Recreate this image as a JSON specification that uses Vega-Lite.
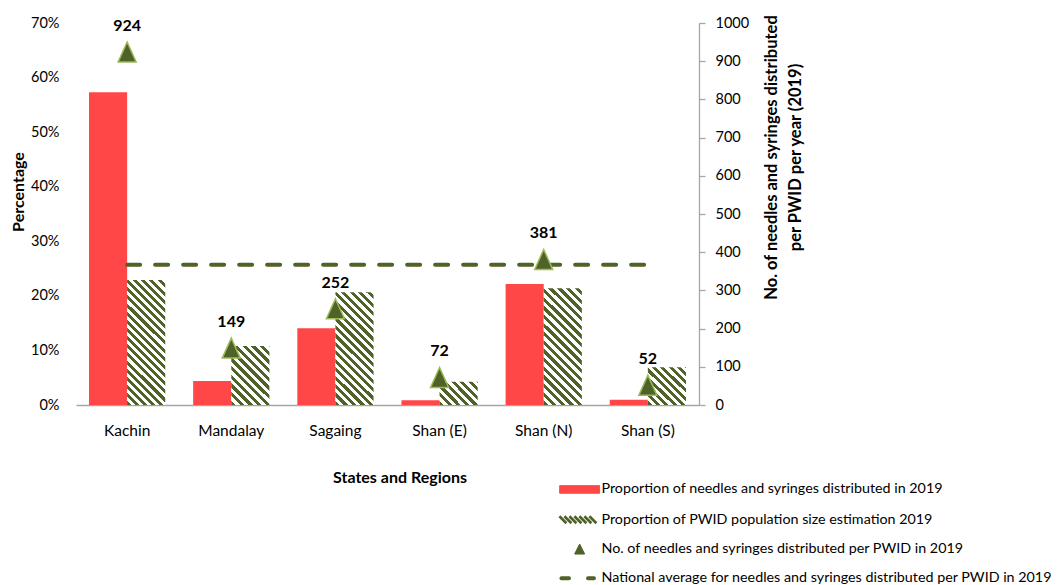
{
  "$schema": "https://vega.github.io/schema/vega-lite/v6.json",
  "width": 623,
  "height": 382,
  "autosize": {"type": "none"},
  "padding": {"left": 76, "top": 23, "right": 365, "bottom": 180},
  "background": "white",
  "config": {
    "font": "Lato",
    "view": {"stroke": null},
    "axis": {"grid": false, "labelColor": "#000000", "titleColor": "#000000", "labelFontSize": 14, "titleFontSize": 16, "titleFontWeight": "bold", "labelFont": "Lato", "titleFont": "Lato"}
  },
  "datasets": {
    "bars": [
      {"region": "Kachin", "series": "Proportion of needles and syringes distributed in 2019", "pct": 0.573},
      {"region": "Kachin", "series": "Proportion of PWID population size estimation 2019", "pct": 0.229},
      {"region": "Mandalay", "series": "Proportion of needles and syringes distributed in 2019", "pct": 0.044},
      {"region": "Mandalay", "series": "Proportion of PWID population size estimation 2019", "pct": 0.108},
      {"region": "Sagaing", "series": "Proportion of needles and syringes distributed in 2019", "pct": 0.1405},
      {"region": "Sagaing", "series": "Proportion of PWID population size estimation 2019", "pct": 0.2065},
      {"region": "Shan (E)", "series": "Proportion of needles and syringes distributed in 2019", "pct": 0.0086},
      {"region": "Shan (E)", "series": "Proportion of PWID population size estimation 2019", "pct": 0.0427},
      {"region": "Shan (N)", "series": "Proportion of needles and syringes distributed in 2019", "pct": 0.2217},
      {"region": "Shan (N)", "series": "Proportion of PWID population size estimation 2019", "pct": 0.2138},
      {"region": "Shan (S)", "series": "Proportion of needles and syringes distributed in 2019", "pct": 0.0097},
      {"region": "Shan (S)", "series": "Proportion of PWID population size estimation 2019", "pct": 0.069}
    ],
    "pwid": [
      {"region": "Kachin", "value": 924},
      {"region": "Mandalay", "value": 149},
      {"region": "Sagaing", "value": 252},
      {"region": "Shan (E)", "value": 72},
      {"region": "Shan (N)", "value": 381},
      {"region": "Shan (S)", "value": 52}
    ],
    "avg": [
      {"region": "Kachin", "value": 367},
      {"region": "Shan (S)", "value": 367}
    ]
  },
  "layer": [
    {
      "data": {"name": "bars"},
      "mark": {"type": "bar"},
      "encoding": {
        "x": {
          "field": "region", "type": "nominal",
          "sort": ["Kachin", "Mandalay", "Sagaing", "Shan (E)", "Shan (N)", "Shan (S)"],
          "scale": {"paddingInner": 0.268, "paddingOuter": 0.125},
          "axis": {"title": "States and Regions", "labelAngle": 0, "ticks": false, "domainColor": "#A6A6A6", "domainWidth": 1.3, "labelPadding": 18.5, "labelFontSize": 15.5, "titleX": 323.5, "titleY": 72.5, "titleBaseline": "middle", "titleAlign": "center"}
        },
        "xOffset": {
          "field": "series", "type": "nominal",
          "sort": ["Proportion of needles and syringes distributed in 2019", "Proportion of PWID population size estimation 2019"],
          "scale": {"paddingInner": 0, "paddingOuter": 0}
        },
        "y": {
          "field": "pct", "type": "quantitative",
          "scale": {"domain": [0, 0.7]},
          "axis": {"title": "Percentage", "values": [0, 0.1, 0.2, 0.3, 0.4, 0.5, 0.6, 0.7], "format": ".0%", "domain": false, "ticks": false, "labelPadding": 17, "labelFontSize": 14.5, "titleAngle": 270, "titleX": -58, "titleY": 168.5, "titleBaseline": "middle", "titleAlign": "center"}
        },
        "color": {
          "condition": [
            {"test": "datum.series == 'Proportion of PWID population size estimation 2019' && datum.region == 'Kachin'",
             "value": {"gradient": "linear", "x1": 0, "y1": 1, "x2": 0.3629, "y2": -0.1937, "stops": [
              {"offset": 0, "color": "#4F6228"}, {"offset": 0.025, "color": "#4F6228"}, {"offset": 0.025, "color": "#FFFFFF"}, {"offset": 0.05, "color": "#FFFFFF"},
              {"offset": 0.05, "color": "#4F6228"}, {"offset": 0.075, "color": "#4F6228"}, {"offset": 0.075, "color": "#FFFFFF"}, {"offset": 0.1, "color": "#FFFFFF"},
              {"offset": 0.1, "color": "#4F6228"}, {"offset": 0.125, "color": "#4F6228"}, {"offset": 0.125, "color": "#FFFFFF"}, {"offset": 0.15, "color": "#FFFFFF"},
              {"offset": 0.15, "color": "#4F6228"}, {"offset": 0.175, "color": "#4F6228"}, {"offset": 0.175, "color": "#FFFFFF"}, {"offset": 0.2, "color": "#FFFFFF"},
              {"offset": 0.2, "color": "#4F6228"}, {"offset": 0.225, "color": "#4F6228"}, {"offset": 0.225, "color": "#FFFFFF"}, {"offset": 0.25, "color": "#FFFFFF"},
              {"offset": 0.25, "color": "#4F6228"}, {"offset": 0.275, "color": "#4F6228"}, {"offset": 0.275, "color": "#FFFFFF"}, {"offset": 0.3, "color": "#FFFFFF"},
              {"offset": 0.3, "color": "#4F6228"}, {"offset": 0.325, "color": "#4F6228"}, {"offset": 0.325, "color": "#FFFFFF"}, {"offset": 0.35, "color": "#FFFFFF"},
              {"offset": 0.35, "color": "#4F6228"}, {"offset": 0.375, "color": "#4F6228"}, {"offset": 0.375, "color": "#FFFFFF"}, {"offset": 0.4, "color": "#FFFFFF"},
              {"offset": 0.4, "color": "#4F6228"}, {"offset": 0.425, "color": "#4F6228"}, {"offset": 0.425, "color": "#FFFFFF"}, {"offset": 0.45, "color": "#FFFFFF"},
              {"offset": 0.45, "color": "#4F6228"}, {"offset": 0.475, "color": "#4F6228"}, {"offset": 0.475, "color": "#FFFFFF"}, {"offset": 0.5, "color": "#FFFFFF"},
              {"offset": 0.5, "color": "#4F6228"}, {"offset": 0.525, "color": "#4F6228"}, {"offset": 0.525, "color": "#FFFFFF"}, {"offset": 0.55, "color": "#FFFFFF"},
              {"offset": 0.55, "color": "#4F6228"}, {"offset": 0.575, "color": "#4F6228"}, {"offset": 0.575, "color": "#FFFFFF"}, {"offset": 0.6, "color": "#FFFFFF"},
              {"offset": 0.6, "color": "#4F6228"}, {"offset": 0.625, "color": "#4F6228"}, {"offset": 0.625, "color": "#FFFFFF"}, {"offset": 0.65, "color": "#FFFFFF"},
              {"offset": 0.65, "color": "#4F6228"}, {"offset": 0.675, "color": "#4F6228"}, {"offset": 0.675, "color": "#FFFFFF"}, {"offset": 0.7, "color": "#FFFFFF"},
              {"offset": 0.7, "color": "#4F6228"}, {"offset": 0.725, "color": "#4F6228"}, {"offset": 0.725, "color": "#FFFFFF"}, {"offset": 0.75, "color": "#FFFFFF"},
              {"offset": 0.75, "color": "#4F6228"}, {"offset": 0.775, "color": "#4F6228"}, {"offset": 0.775, "color": "#FFFFFF"}, {"offset": 0.8, "color": "#FFFFFF"},
              {"offset": 0.8, "color": "#4F6228"}, {"offset": 0.825, "color": "#4F6228"}, {"offset": 0.825, "color": "#FFFFFF"}, {"offset": 0.85, "color": "#FFFFFF"},
              {"offset": 0.85, "color": "#4F6228"}, {"offset": 0.875, "color": "#4F6228"}, {"offset": 0.875, "color": "#FFFFFF"}, {"offset": 0.9, "color": "#FFFFFF"},
              {"offset": 0.9, "color": "#4F6228"}, {"offset": 0.925, "color": "#4F6228"}, {"offset": 0.925, "color": "#FFFFFF"}, {"offset": 0.95, "color": "#FFFFFF"},
              {"offset": 0.95, "color": "#4F6228"}, {"offset": 0.975, "color": "#4F6228"}, {"offset": 0.975, "color": "#FFFFFF"}, {"offset": 1, "color": "#FFFFFF"}
             ]}},
            {"test": "datum.series == 'Proportion of PWID population size estimation 2019' && datum.region == 'Mandalay'",
             "value": {"gradient": "linear", "x1": 0, "y1": 1, "x2": 0.749, "y2": -0.1617, "stops": [
              {"offset": 0, "color": "#4F6228"}, {"offset": 0.045, "color": "#4F6228"}, {"offset": 0.045, "color": "#FFFFFF"}, {"offset": 0.09, "color": "#FFFFFF"},
              {"offset": 0.09, "color": "#4F6228"}, {"offset": 0.135, "color": "#4F6228"}, {"offset": 0.135, "color": "#FFFFFF"}, {"offset": 0.18, "color": "#FFFFFF"},
              {"offset": 0.18, "color": "#4F6228"}, {"offset": 0.225, "color": "#4F6228"}, {"offset": 0.225, "color": "#FFFFFF"}, {"offset": 0.27, "color": "#FFFFFF"},
              {"offset": 0.27, "color": "#4F6228"}, {"offset": 0.315, "color": "#4F6228"}, {"offset": 0.315, "color": "#FFFFFF"}, {"offset": 0.36, "color": "#FFFFFF"},
              {"offset": 0.36, "color": "#4F6228"}, {"offset": 0.405, "color": "#4F6228"}, {"offset": 0.405, "color": "#FFFFFF"}, {"offset": 0.45, "color": "#FFFFFF"},
              {"offset": 0.45, "color": "#4F6228"}, {"offset": 0.495, "color": "#4F6228"}, {"offset": 0.495, "color": "#FFFFFF"}, {"offset": 0.54, "color": "#FFFFFF"},
              {"offset": 0.54, "color": "#4F6228"}, {"offset": 0.585, "color": "#4F6228"}, {"offset": 0.585, "color": "#FFFFFF"}, {"offset": 0.63, "color": "#FFFFFF"},
              {"offset": 0.63, "color": "#4F6228"}, {"offset": 0.675, "color": "#4F6228"}, {"offset": 0.675, "color": "#FFFFFF"}, {"offset": 0.72, "color": "#FFFFFF"},
              {"offset": 0.72, "color": "#4F6228"}, {"offset": 0.765, "color": "#4F6228"}, {"offset": 0.765, "color": "#FFFFFF"}, {"offset": 0.81, "color": "#FFFFFF"},
              {"offset": 0.81, "color": "#4F6228"}, {"offset": 0.855, "color": "#4F6228"}, {"offset": 0.855, "color": "#FFFFFF"}, {"offset": 0.9, "color": "#FFFFFF"},
              {"offset": 0.9, "color": "#4F6228"}, {"offset": 0.945, "color": "#4F6228"}, {"offset": 0.945, "color": "#FFFFFF"}, {"offset": 0.99, "color": "#FFFFFF"},
              {"offset": 0.99, "color": "#4F6228"}, {"offset": 1, "color": "#4F6228"}
             ]}},
            {"test": "datum.series == 'Proportion of PWID population size estimation 2019' && datum.region == 'Sagaing'",
             "value": {"gradient": "linear", "x1": 0, "y1": 1, "x2": 0.4039, "y2": -0.2008, "stops": [
              {"offset": 0, "color": "#4F6228"}, {"offset": 0.028, "color": "#4F6228"}, {"offset": 0.028, "color": "#FFFFFF"}, {"offset": 0.056, "color": "#FFFFFF"},
              {"offset": 0.056, "color": "#4F6228"}, {"offset": 0.084, "color": "#4F6228"}, {"offset": 0.084, "color": "#FFFFFF"}, {"offset": 0.112, "color": "#FFFFFF"},
              {"offset": 0.112, "color": "#4F6228"}, {"offset": 0.14, "color": "#4F6228"}, {"offset": 0.14, "color": "#FFFFFF"}, {"offset": 0.168, "color": "#FFFFFF"},
              {"offset": 0.168, "color": "#4F6228"}, {"offset": 0.196, "color": "#4F6228"}, {"offset": 0.196, "color": "#FFFFFF"}, {"offset": 0.224, "color": "#FFFFFF"},
              {"offset": 0.224, "color": "#4F6228"}, {"offset": 0.252, "color": "#4F6228"}, {"offset": 0.252, "color": "#FFFFFF"}, {"offset": 0.28, "color": "#FFFFFF"},
              {"offset": 0.28, "color": "#4F6228"}, {"offset": 0.308, "color": "#4F6228"}, {"offset": 0.308, "color": "#FFFFFF"}, {"offset": 0.336, "color": "#FFFFFF"},
              {"offset": 0.336, "color": "#4F6228"}, {"offset": 0.364, "color": "#4F6228"}, {"offset": 0.364, "color": "#FFFFFF"}, {"offset": 0.392, "color": "#FFFFFF"},
              {"offset": 0.392, "color": "#4F6228"}, {"offset": 0.42, "color": "#4F6228"}, {"offset": 0.42, "color": "#FFFFFF"}, {"offset": 0.448, "color": "#FFFFFF"},
              {"offset": 0.448, "color": "#4F6228"}, {"offset": 0.476, "color": "#4F6228"}, {"offset": 0.476, "color": "#FFFFFF"}, {"offset": 0.504, "color": "#FFFFFF"},
              {"offset": 0.504, "color": "#4F6228"}, {"offset": 0.532, "color": "#4F6228"}, {"offset": 0.532, "color": "#FFFFFF"}, {"offset": 0.56, "color": "#FFFFFF"},
              {"offset": 0.56, "color": "#4F6228"}, {"offset": 0.588, "color": "#4F6228"}, {"offset": 0.588, "color": "#FFFFFF"}, {"offset": 0.616, "color": "#FFFFFF"},
              {"offset": 0.616, "color": "#4F6228"}, {"offset": 0.644, "color": "#4F6228"}, {"offset": 0.644, "color": "#FFFFFF"}, {"offset": 0.672, "color": "#FFFFFF"},
              {"offset": 0.672, "color": "#4F6228"}, {"offset": 0.7, "color": "#4F6228"}, {"offset": 0.7, "color": "#FFFFFF"}, {"offset": 0.728, "color": "#FFFFFF"},
              {"offset": 0.728, "color": "#4F6228"}, {"offset": 0.756, "color": "#4F6228"}, {"offset": 0.756, "color": "#FFFFFF"}, {"offset": 0.784, "color": "#FFFFFF"},
              {"offset": 0.784, "color": "#4F6228"}, {"offset": 0.812, "color": "#4F6228"}, {"offset": 0.812, "color": "#FFFFFF"}, {"offset": 0.84, "color": "#FFFFFF"},
              {"offset": 0.84, "color": "#4F6228"}, {"offset": 0.868, "color": "#4F6228"}, {"offset": 0.868, "color": "#FFFFFF"}, {"offset": 0.896, "color": "#FFFFFF"},
              {"offset": 0.896, "color": "#4F6228"}, {"offset": 0.924, "color": "#4F6228"}, {"offset": 0.924, "color": "#FFFFFF"}, {"offset": 0.952, "color": "#FFFFFF"},
              {"offset": 0.952, "color": "#4F6228"}, {"offset": 0.98, "color": "#4F6228"}, {"offset": 0.98, "color": "#FFFFFF"}, {"offset": 1, "color": "#FFFFFF"}
             ]}},
            {"test": "datum.series == 'Proportion of PWID population size estimation 2019' && datum.region == 'Shan (E)'",
             "value": {"gradient": "linear", "x1": 0, "y1": 1, "x2": 1.1755, "y2": 0.2912, "stops": [
              {"offset": 0, "color": "#4F6228"}, {"offset": 0.07, "color": "#4F6228"}, {"offset": 0.07, "color": "#FFFFFF"}, {"offset": 0.14, "color": "#FFFFFF"},
              {"offset": 0.14, "color": "#4F6228"}, {"offset": 0.21, "color": "#4F6228"}, {"offset": 0.21, "color": "#FFFFFF"}, {"offset": 0.28, "color": "#FFFFFF"},
              {"offset": 0.28, "color": "#4F6228"}, {"offset": 0.35, "color": "#4F6228"}, {"offset": 0.35, "color": "#FFFFFF"}, {"offset": 0.42, "color": "#FFFFFF"},
              {"offset": 0.42, "color": "#4F6228"}, {"offset": 0.49, "color": "#4F6228"}, {"offset": 0.49, "color": "#FFFFFF"}, {"offset": 0.56, "color": "#FFFFFF"},
              {"offset": 0.56, "color": "#4F6228"}, {"offset": 0.63, "color": "#4F6228"}, {"offset": 0.63, "color": "#FFFFFF"}, {"offset": 0.7, "color": "#FFFFFF"},
              {"offset": 0.7, "color": "#4F6228"}, {"offset": 0.77, "color": "#4F6228"}, {"offset": 0.77, "color": "#FFFFFF"}, {"offset": 0.84, "color": "#FFFFFF"},
              {"offset": 0.84, "color": "#4F6228"}, {"offset": 0.91, "color": "#4F6228"}, {"offset": 0.91, "color": "#FFFFFF"}, {"offset": 0.98, "color": "#FFFFFF"},
              {"offset": 0.98, "color": "#4F6228"}, {"offset": 1, "color": "#4F6228"}
             ]}},
            {"test": "datum.series == 'Proportion of PWID population size estimation 2019' && datum.region == 'Shan (N)'",
             "value": {"gradient": "linear", "x1": 0, "y1": 1, "x2": 0.39, "y2": -0.1985, "stops": [
              {"offset": 0, "color": "#4F6228"}, {"offset": 0.028, "color": "#4F6228"}, {"offset": 0.028, "color": "#FFFFFF"}, {"offset": 0.056, "color": "#FFFFFF"},
              {"offset": 0.056, "color": "#4F6228"}, {"offset": 0.084, "color": "#4F6228"}, {"offset": 0.084, "color": "#FFFFFF"}, {"offset": 0.112, "color": "#FFFFFF"},
              {"offset": 0.112, "color": "#4F6228"}, {"offset": 0.14, "color": "#4F6228"}, {"offset": 0.14, "color": "#FFFFFF"}, {"offset": 0.168, "color": "#FFFFFF"},
              {"offset": 0.168, "color": "#4F6228"}, {"offset": 0.196, "color": "#4F6228"}, {"offset": 0.196, "color": "#FFFFFF"}, {"offset": 0.224, "color": "#FFFFFF"},
              {"offset": 0.224, "color": "#4F6228"}, {"offset": 0.252, "color": "#4F6228"}, {"offset": 0.252, "color": "#FFFFFF"}, {"offset": 0.28, "color": "#FFFFFF"},
              {"offset": 0.28, "color": "#4F6228"}, {"offset": 0.308, "color": "#4F6228"}, {"offset": 0.308, "color": "#FFFFFF"}, {"offset": 0.336, "color": "#FFFFFF"},
              {"offset": 0.336, "color": "#4F6228"}, {"offset": 0.364, "color": "#4F6228"}, {"offset": 0.364, "color": "#FFFFFF"}, {"offset": 0.392, "color": "#FFFFFF"},
              {"offset": 0.392, "color": "#4F6228"}, {"offset": 0.42, "color": "#4F6228"}, {"offset": 0.42, "color": "#FFFFFF"}, {"offset": 0.448, "color": "#FFFFFF"},
              {"offset": 0.448, "color": "#4F6228"}, {"offset": 0.476, "color": "#4F6228"}, {"offset": 0.476, "color": "#FFFFFF"}, {"offset": 0.504, "color": "#FFFFFF"},
              {"offset": 0.504, "color": "#4F6228"}, {"offset": 0.532, "color": "#4F6228"}, {"offset": 0.532, "color": "#FFFFFF"}, {"offset": 0.56, "color": "#FFFFFF"},
              {"offset": 0.56, "color": "#4F6228"}, {"offset": 0.588, "color": "#4F6228"}, {"offset": 0.588, "color": "#FFFFFF"}, {"offset": 0.616, "color": "#FFFFFF"},
              {"offset": 0.616, "color": "#4F6228"}, {"offset": 0.644, "color": "#4F6228"}, {"offset": 0.644, "color": "#FFFFFF"}, {"offset": 0.672, "color": "#FFFFFF"},
              {"offset": 0.672, "color": "#4F6228"}, {"offset": 0.7, "color": "#4F6228"}, {"offset": 0.7, "color": "#FFFFFF"}, {"offset": 0.728, "color": "#FFFFFF"},
              {"offset": 0.728, "color": "#4F6228"}, {"offset": 0.756, "color": "#4F6228"}, {"offset": 0.756, "color": "#FFFFFF"}, {"offset": 0.784, "color": "#FFFFFF"},
              {"offset": 0.784, "color": "#4F6228"}, {"offset": 0.812, "color": "#4F6228"}, {"offset": 0.812, "color": "#FFFFFF"}, {"offset": 0.84, "color": "#FFFFFF"},
              {"offset": 0.84, "color": "#4F6228"}, {"offset": 0.868, "color": "#4F6228"}, {"offset": 0.868, "color": "#FFFFFF"}, {"offset": 0.896, "color": "#FFFFFF"},
              {"offset": 0.896, "color": "#4F6228"}, {"offset": 0.924, "color": "#4F6228"}, {"offset": 0.924, "color": "#FFFFFF"}, {"offset": 0.952, "color": "#FFFFFF"},
              {"offset": 0.952, "color": "#4F6228"}, {"offset": 0.98, "color": "#4F6228"}, {"offset": 0.98, "color": "#FFFFFF"}, {"offset": 1, "color": "#FFFFFF"}
             ]}},
            {"test": "datum.series == 'Proportion of PWID population size estimation 2019' && datum.region == 'Shan (S)'",
             "value": {"gradient": "linear", "x1": 0, "y1": 1, "x2": 0.9975, "y2": -0.0025, "stops": [
              {"offset": 0, "color": "#4F6228"}, {"offset": 0.055, "color": "#4F6228"}, {"offset": 0.055, "color": "#FFFFFF"}, {"offset": 0.11, "color": "#FFFFFF"},
              {"offset": 0.11, "color": "#4F6228"}, {"offset": 0.165, "color": "#4F6228"}, {"offset": 0.165, "color": "#FFFFFF"}, {"offset": 0.22, "color": "#FFFFFF"},
              {"offset": 0.22, "color": "#4F6228"}, {"offset": 0.275, "color": "#4F6228"}, {"offset": 0.275, "color": "#FFFFFF"}, {"offset": 0.33, "color": "#FFFFFF"},
              {"offset": 0.33, "color": "#4F6228"}, {"offset": 0.385, "color": "#4F6228"}, {"offset": 0.385, "color": "#FFFFFF"}, {"offset": 0.44, "color": "#FFFFFF"},
              {"offset": 0.44, "color": "#4F6228"}, {"offset": 0.495, "color": "#4F6228"}, {"offset": 0.495, "color": "#FFFFFF"}, {"offset": 0.55, "color": "#FFFFFF"},
              {"offset": 0.55, "color": "#4F6228"}, {"offset": 0.605, "color": "#4F6228"}, {"offset": 0.605, "color": "#FFFFFF"}, {"offset": 0.66, "color": "#FFFFFF"},
              {"offset": 0.66, "color": "#4F6228"}, {"offset": 0.715, "color": "#4F6228"}, {"offset": 0.715, "color": "#FFFFFF"}, {"offset": 0.77, "color": "#FFFFFF"},
              {"offset": 0.77, "color": "#4F6228"}, {"offset": 0.825, "color": "#4F6228"}, {"offset": 0.825, "color": "#FFFFFF"}, {"offset": 0.88, "color": "#FFFFFF"},
              {"offset": 0.88, "color": "#4F6228"}, {"offset": 0.935, "color": "#4F6228"}, {"offset": 0.935, "color": "#FFFFFF"}, {"offset": 0.99, "color": "#FFFFFF"},
              {"offset": 0.99, "color": "#4F6228"}, {"offset": 1, "color": "#4F6228"}
             ]}}
          ],
          "field": "series",
          "type": "nominal",
          "scale": {
            "domain": [
              "Proportion of needles and syringes distributed in 2019",
              "Proportion of PWID population size estimation 2019",
              "No. of needles and syringes distributed per PWID in 2019",
              "National average for needles and syringes distributed per PWID in 2019"
            ],
            "range": ["#FF4747", "#4F6228", "#4F6228", "#4F6228"]
          },
          "legend": {
            "orient": "none",
            "legendX": 496.5,
            "legendY": 459.3,
            "title": null,
            "padding": 0,
            "symbolSize": 729,
            "labelOffset": 14.7,
            "rowPadding": 13.3,
            "labelFontSize": 14.3,
            "labelFont": "Lato",
            "labelColor": "#000000",
            "labelLimit": 700,
            "encode": {
              "symbols": {
                "update": {
                  "shape": {"signal": "datum.value == 'Proportion of needles and syringes distributed in 2019' ? 'M-1.48,-0.28H1.48V0.28H-1.48Z' : datum.value == 'Proportion of PWID population size estimation 2019' ? 'M-1.5,-0.26L-0.98,0.26M-1.13,-0.26L-0.61,0.26M-0.76,-0.26L-0.24,0.26M-0.39,-0.26L0.13,0.26M-0.02,-0.26L0.5,0.26M0.35,-0.26L0.87,0.26M0.72,-0.26L1.24,0.26' : datum.value == 'No. of needles and syringes distributed per PWID in 2019' ? 'M0,-0.37L-0.37,0.37L0.37,0.37Z' : 'M-1.35,0H-0.79M0.62,0H1.06'"},
                  "fill": {"signal": "datum.value == 'Proportion of needles and syringes distributed in 2019' ? '#FF4747' : datum.value == 'No. of needles and syringes distributed per PWID in 2019' ? '#4F6228' : 'transparent'"},
                  "stroke": {"signal": "datum.value == 'Proportion of needles and syringes distributed in 2019' ? 'transparent' : datum.value == 'No. of needles and syringes distributed per PWID in 2019' ? '#9BBB59' : '#4F6228'"},
                  "strokeWidth": {"signal": "datum.value == 'Proportion of PWID population size estimation 2019' ? 2.6 : datum.value == 'National average for needles and syringes distributed per PWID in 2019' ? 4 : 1"},
                  "strokeCap": {"signal": "datum.value == 'National average for needles and syringes distributed per PWID in 2019' ? 'round' : 'butt'"},
                  "opacity": {"value": 1}
                }
              }
            }
          }
        }
      }
    },
    {
      "encoding": {
        "x": {"field": "region", "type": "nominal", "sort": ["Kachin", "Mandalay", "Sagaing", "Shan (E)", "Shan (N)", "Shan (S)"]},
        "y": {
          "field": "value", "type": "quantitative",
          "scale": {"domain": [0, 1000]},
          "axis": {
            "orient": "right",
            "values": [0, 100, 200, 300, 400, 500, 600, 700, 800, 900, 1000],
            "format": "d",
            "title": ["No. of needles and syringes distributed", "per PWID per year (2019)"],
            "domainColor": "#A6A6A6", "domainWidth": 1.3, "tickColor": "#A6A6A6", "tickSize": 6, "tickWidth": 1.3,
            "labelPadding": 10, "labelFontSize": 14.5,
            "titleAngle": 270, "titleX": 64, "titleY": 134, "titleBaseline": "top", "titleAlign": "center", "titleLineHeight": 24, "titleFontSize": 16.5
          }
        }
      },
      "layer": [
        {
          "data": {"name": "avg"},
          "mark": {"type": "line", "strokeDash": [13, 15], "strokeWidth": 4, "strokeCap": "round"},
          "encoding": {
            "color": {"datum": "National average for needles and syringes distributed per PWID in 2019", "legend": null}
          }
        },
        {
          "data": {"name": "pwid"},
          "mark": {"type": "point", "shape": "M0,-1L-0.9,1L0.9,1Z", "size": 400, "filled": true, "stroke": "#9BBB59", "strokeWidth": 1.5, "opacity": 1},
          "encoding": {
            "color": {"datum": "No. of needles and syringes distributed per PWID in 2019", "legend": null}
          }
        },
        {
          "data": {"name": "pwid"},
          "mark": {"type": "text", "dy": -26, "fontSize": 16, "fontWeight": "bold", "font": "Lato", "color": "#000000"},
          "encoding": {
            "text": {"field": "value", "type": "quantitative"}
          }
        }
      ]
    }
  ],
  "resolve": {"scale": {"y": "independent"}}
}
